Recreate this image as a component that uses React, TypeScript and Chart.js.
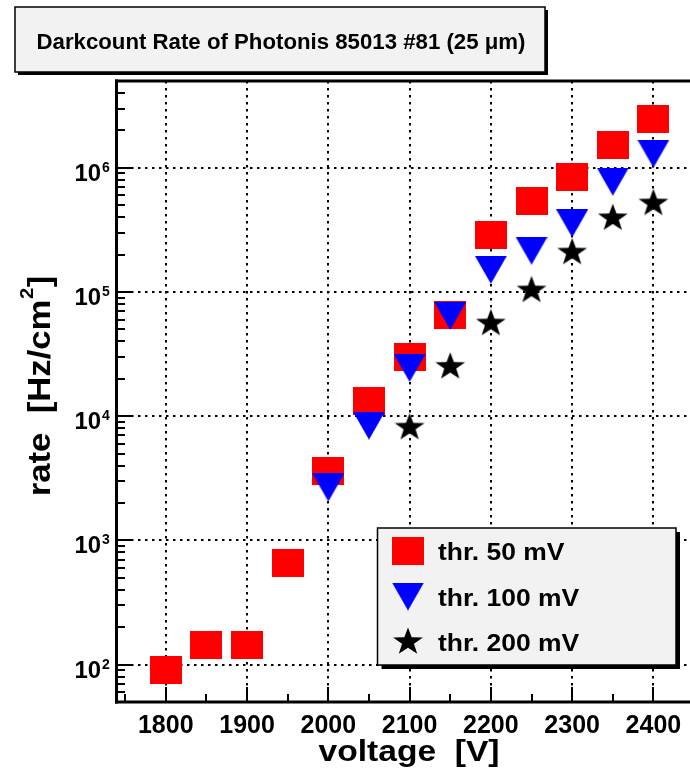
import React, { useEffect, useRef } from 'react';
import { Chart, registerables } from 'chart.js';

Chart.register(...registerables);

// ---------- data ----------
const TITLE = 'Darkcount Rate of Photonis 85013 #81 (25 \u03bcm)';
const X_TITLE = 'voltage  [V]';
const Y_TITLE_MAIN = 'rate  [Hz/cm';
const Y_TITLE_SUP = '2';
const Y_TITLE_END = ']';

const seriesLabels = ['thr. 50 mV', 'thr. 100 mV', 'thr. 200 mV'];

const voltage50 = [1800, 1850, 1900, 1950, 2000, 2050, 2100, 2150, 2200, 2250, 2300, 2350, 2400];
const rate50 = [91, 143, 143, 662, 3610, 13300, 29700, 65600, 289000, 542000, 840000, 1540000, 2490000];

const voltage100 = [2000, 2050, 2100, 2150, 2200, 2250, 2300, 2350, 2400];
const rate100 = [2670, 8400, 24500, 64300, 151000, 215000, 357000, 773000, 1300000];

const voltage200 = [2100, 2150, 2200, 2250, 2300, 2350, 2400];
const rate200 = [8100, 25000, 55800, 103000, 208000, 393000, 517000];

const xTickLabels = [1800, 1900, 2000, 2100, 2200, 2300, 2400];
const yTickExponents = [2, 3, 4, 5, 6];

const X_MIN = 1740;
const X_MAX = 2445;
const Y_MIN = 50;
const Y_MAX = 5e6;

const FONT = '"Liberation Sans", Arial, Helvetica, sans-serif';

// ---------- marker images ----------
function makeCanvas(w: number, h: number, draw: (ctx: CanvasRenderingContext2D) => void) {
  const c = document.createElement('canvas');
  c.width = w;
  c.height = h;
  const ctx = c.getContext('2d')!;
  draw(ctx);
  return c;
}

function squareMarker() {
  return makeCanvas(32, 28, (ctx) => {
    ctx.fillStyle = '#ff0000';
    ctx.fillRect(0, 0, 32, 28);
  });
}

function triangleMarker() {
  return makeCanvas(32, 28, (ctx) => {
    ctx.fillStyle = '#0000ff';
    ctx.beginPath();
    ctx.moveTo(0, 0);
    ctx.lineTo(32, 0);
    ctx.lineTo(16, 28);
    ctx.closePath();
    ctx.fill();
  });
}

function starMarker() {
  return makeCanvas(32, 30, (ctx) => {
    ctx.fillStyle = '#000000';
    ctx.translate(16, 15);
    ctx.scale(1.08, 1);
    const R = 14.5;
    ctx.beginPath();
    for (let i = 0; i < 10; i++) {
      const r = i % 2 === 0 ? R : R * 0.4;
      const a = -Math.PI / 2 + (i * Math.PI) / 5;
      const px = r * Math.cos(a);
      const py = r * Math.sin(a);
      if (i === 0) ctx.moveTo(px, py);
      else ctx.lineTo(px, py);
    }
    ctx.closePath();
    ctx.fill();
  });
}

function stretchedText(
  ctx: CanvasRenderingContext2D,
  text: string,
  x: number,
  y: number,
  size: number,
  align: CanvasTextAlign,
  sx = 1
) {
  ctx.save();
  ctx.translate(x, y);
  ctx.scale(sx, 1);
  ctx.font = `bold ${size}px ${FONT}`;
  ctx.textAlign = align;
  ctx.textBaseline = 'alphabetic';
  ctx.fillStyle = '#000';
  ctx.fillText(text, 0, 0);
  ctx.restore();
}

export default function App() {
  const canvasRef = useRef<HTMLCanvasElement | null>(null);

  useEffect(() => {
    const canvas = canvasRef.current;
    if (!canvas) return;
    const sq = squareMarker();
    const tri = triangleMarker();
    const star = starMarker();
    const markers = [sq, tri, star];

    const framePlugin = {
      id: 'rootFrame',
      beforeDraw(chart: any) {
        const ctx = chart.ctx as CanvasRenderingContext2D;
        ctx.save();
        ctx.fillStyle = '#ffffff';
        ctx.fillRect(0, 0, chart.width, chart.height);
        ctx.restore();
      },
      beforeDatasetsDraw(chart: any) {
        const ctx = chart.ctx as CanvasRenderingContext2D;
        const { left, right, top, bottom } = chart.chartArea;
        const xs = chart.scales.x;
        const ys = chart.scales.y;
        ctx.save();
        ctx.strokeStyle = '#000';
        ctx.lineWidth = 2;
        ctx.setLineDash([2.5, 4.5]);
        for (const v of xTickLabels) {
          const px = Math.round(xs.getPixelForValue(v));
          ctx.beginPath();
          ctx.moveTo(px, top);
          ctx.lineTo(px, bottom);
          ctx.stroke();
        }
        for (const e of yTickExponents) {
          const py = Math.round(ys.getPixelForValue(Math.pow(10, e)));
          ctx.beginPath();
          ctx.moveTo(left, py);
          ctx.lineTo(right, py);
          ctx.stroke();
        }
        ctx.restore();
      },
      afterDatasetsDraw(chart: any) {
        const ctx = chart.ctx as CanvasRenderingContext2D;
        const { left, right, top, bottom } = chart.chartArea;
        const xs = chart.scales.x;
        const ys = chart.scales.y;
        ctx.save();
        ctx.strokeStyle = '#000';
        ctx.setLineDash([]);
        ctx.lineWidth = 2;
        // y ticks (inward), log minor ticks
        for (let e = 1; e <= 6; e++) {
          for (let m = 1; m <= 9; m++) {
            const v = m * Math.pow(10, e);
            if (v < Y_MIN || v > Y_MAX) continue;
            const py = Math.round(ys.getPixelForValue(v));
            const len = m === 1 ? 15 : 8;
            ctx.beginPath();
            ctx.moveTo(left, py);
            ctx.lineTo(left + len, py);
            ctx.stroke();
          }
        }
        // x ticks (inward)
        for (let v = 1750; v <= X_MAX; v += 50) {
          const px = Math.round(xs.getPixelForValue(v));
          const len = v % 100 === 0 ? 15 : 8;
          ctx.beginPath();
          ctx.moveTo(px, bottom);
          ctx.lineTo(px, bottom - len);
          ctx.stroke();
        }
        // frame
        ctx.lineWidth = 3;
        ctx.beginPath();
        ctx.moveTo(left - 0.5, top - 1.5);
        ctx.lineTo(left - 0.5, bottom + 1.5);
        ctx.stroke();
        ctx.beginPath();
        ctx.moveTo(left - 2, bottom);
        ctx.lineTo(right, bottom);
        ctx.stroke();
        ctx.beginPath();
        ctx.moveTo(left - 2, top);
        ctx.lineTo(right, top);
        ctx.stroke();

        // x tick labels
        for (const v of xTickLabels) {
          const px = xs.getPixelForValue(v);
          stretchedText(ctx, String(v), px, 733, 25, 'center');
        }
        // y tick labels 10^n
        for (const e of yTickExponents) {
          const py = ys.getPixelForValue(Math.pow(10, e));
          stretchedText(ctx, '10', 101, py + 13, 23, 'right', 1.04);
          stretchedText(ctx, String(e), 102, py + 4, 14, 'left');
        }

        // axis titles
        stretchedText(ctx, X_TITLE, 409, 761, 30, 'center', 1.12);

        ctx.save();
        ctx.translate(50, 386);
        ctx.rotate(-Math.PI / 2);
        ctx.scale(1.12, 1);
        ctx.fillStyle = '#000';
        ctx.textBaseline = 'alphabetic';
        ctx.textAlign = 'left';
        ctx.font = `bold 31px ${FONT}`;
        const w1 = ctx.measureText(Y_TITLE_MAIN).width;
        const w3 = ctx.measureText(Y_TITLE_END).width;
        ctx.font = `bold 18px ${FONT}`;
        const w2 = ctx.measureText(Y_TITLE_SUP).width;
        const total = w1 + w2 + w3 + 1;
        const start = -total / 2;
        ctx.font = `bold 31px ${FONT}`;
        ctx.fillText(Y_TITLE_MAIN, start, 0);
        ctx.font = `bold 18px ${FONT}`;
        ctx.fillText(Y_TITLE_SUP, start + w1 + 0.5, -17);
        ctx.font = `bold 31px ${FONT}`;
        ctx.fillText(Y_TITLE_END, start + w1 + w2 + 1, 0);
        ctx.restore();

        // title box
        ctx.fillStyle = '#000';
        ctx.fillRect(18, 10, 530, 65);
        ctx.fillStyle = '#f2f2f2';
        ctx.fillRect(15, 7, 530, 65);
        ctx.lineWidth = 1.5;
        ctx.strokeRect(15, 7, 530, 65);
        stretchedText(ctx, TITLE, 281, 49, 22, 'center', 1.01);

        // legend box
        const lx = 377.5, ly = 528, lw = 298.5, lh = 137;
        ctx.fillStyle = '#000';
        ctx.fillRect(lx + 4, ly + 4, lw, lh);
        ctx.fillStyle = '#f2f2f2';
        ctx.fillRect(lx, ly, lw, lh);
        ctx.lineWidth = 1.5;
        ctx.strokeRect(lx, ly, lw, lh);
        const rowCenters = [551, 596.5, 642];
        const labels = chart.data.datasets.map((d: any) => d.label);
        for (let i = 0; i < labels.length; i++) {
          const img = markers[i];
          ctx.drawImage(img, 408 - img.width / 2, rowCenters[i] - img.height / 2);
          stretchedText(ctx, labels[i], 438, rowCenters[i] + 9, 23, 'left', 1.15);
        }
        ctx.restore();
      },
    };

    const chart = new Chart(canvas, {
      type: 'scatter',
      data: {
        datasets: [
          {
            label: seriesLabels[0],
            data: voltage50.map((x, i) => ({ x, y: rate50[i] })),
            pointStyle: sq as any,
            pointRadius: 16,
            showLine: false,
            order: 3,
          },
          {
            label: seriesLabels[1],
            data: voltage100.map((x, i) => ({ x, y: rate100[i] })),
            pointStyle: tri as any,
            pointRadius: 16,
            showLine: false,
            order: 2,
          },
          {
            label: seriesLabels[2],
            data: voltage200.map((x, i) => ({ x, y: rate200[i] })),
            pointStyle: star as any,
            pointRadius: 16,
            showLine: false,
            order: 1,
          },
        ],
      },
      options: {
        responsive: false,
        animation: false,
        devicePixelRatio: 1,
        events: [],
        layout: { autoPadding: false, padding: { top: 81, left: 0, right: 0, bottom: 0 } },
        plugins: {
          legend: { display: false },
          tooltip: { enabled: false },
          title: { display: false },
        },
        scales: {
          x: {
            type: 'linear',
            min: X_MIN,
            max: X_MAX,
            grid: { display: false, drawTicks: false },
            border: { display: false },
            ticks: { display: false },
            afterFit: (s: any) => {
              s.height = 67;
            },
          },
          y: {
            type: 'logarithmic',
            min: Y_MIN,
            max: Y_MAX,
            grid: { display: false, drawTicks: false },
            border: { display: false },
            ticks: { display: false },
            afterFit: (s: any) => {
              s.width = 117;
            },
          },
        },
      },
      plugins: [framePlugin],
    } as any);

    return () => {
      chart.destroy();
    };
  }, []);

  return (
    <div style={{ position: 'absolute', left: 0, top: 0, width: 690, height: 769, overflow: 'hidden', background: '#fff' }}>
      <canvas ref={canvasRef} width={690} height={769} style={{ display: 'block', width: 690, height: 769 }} />
    </div>
  );
}
